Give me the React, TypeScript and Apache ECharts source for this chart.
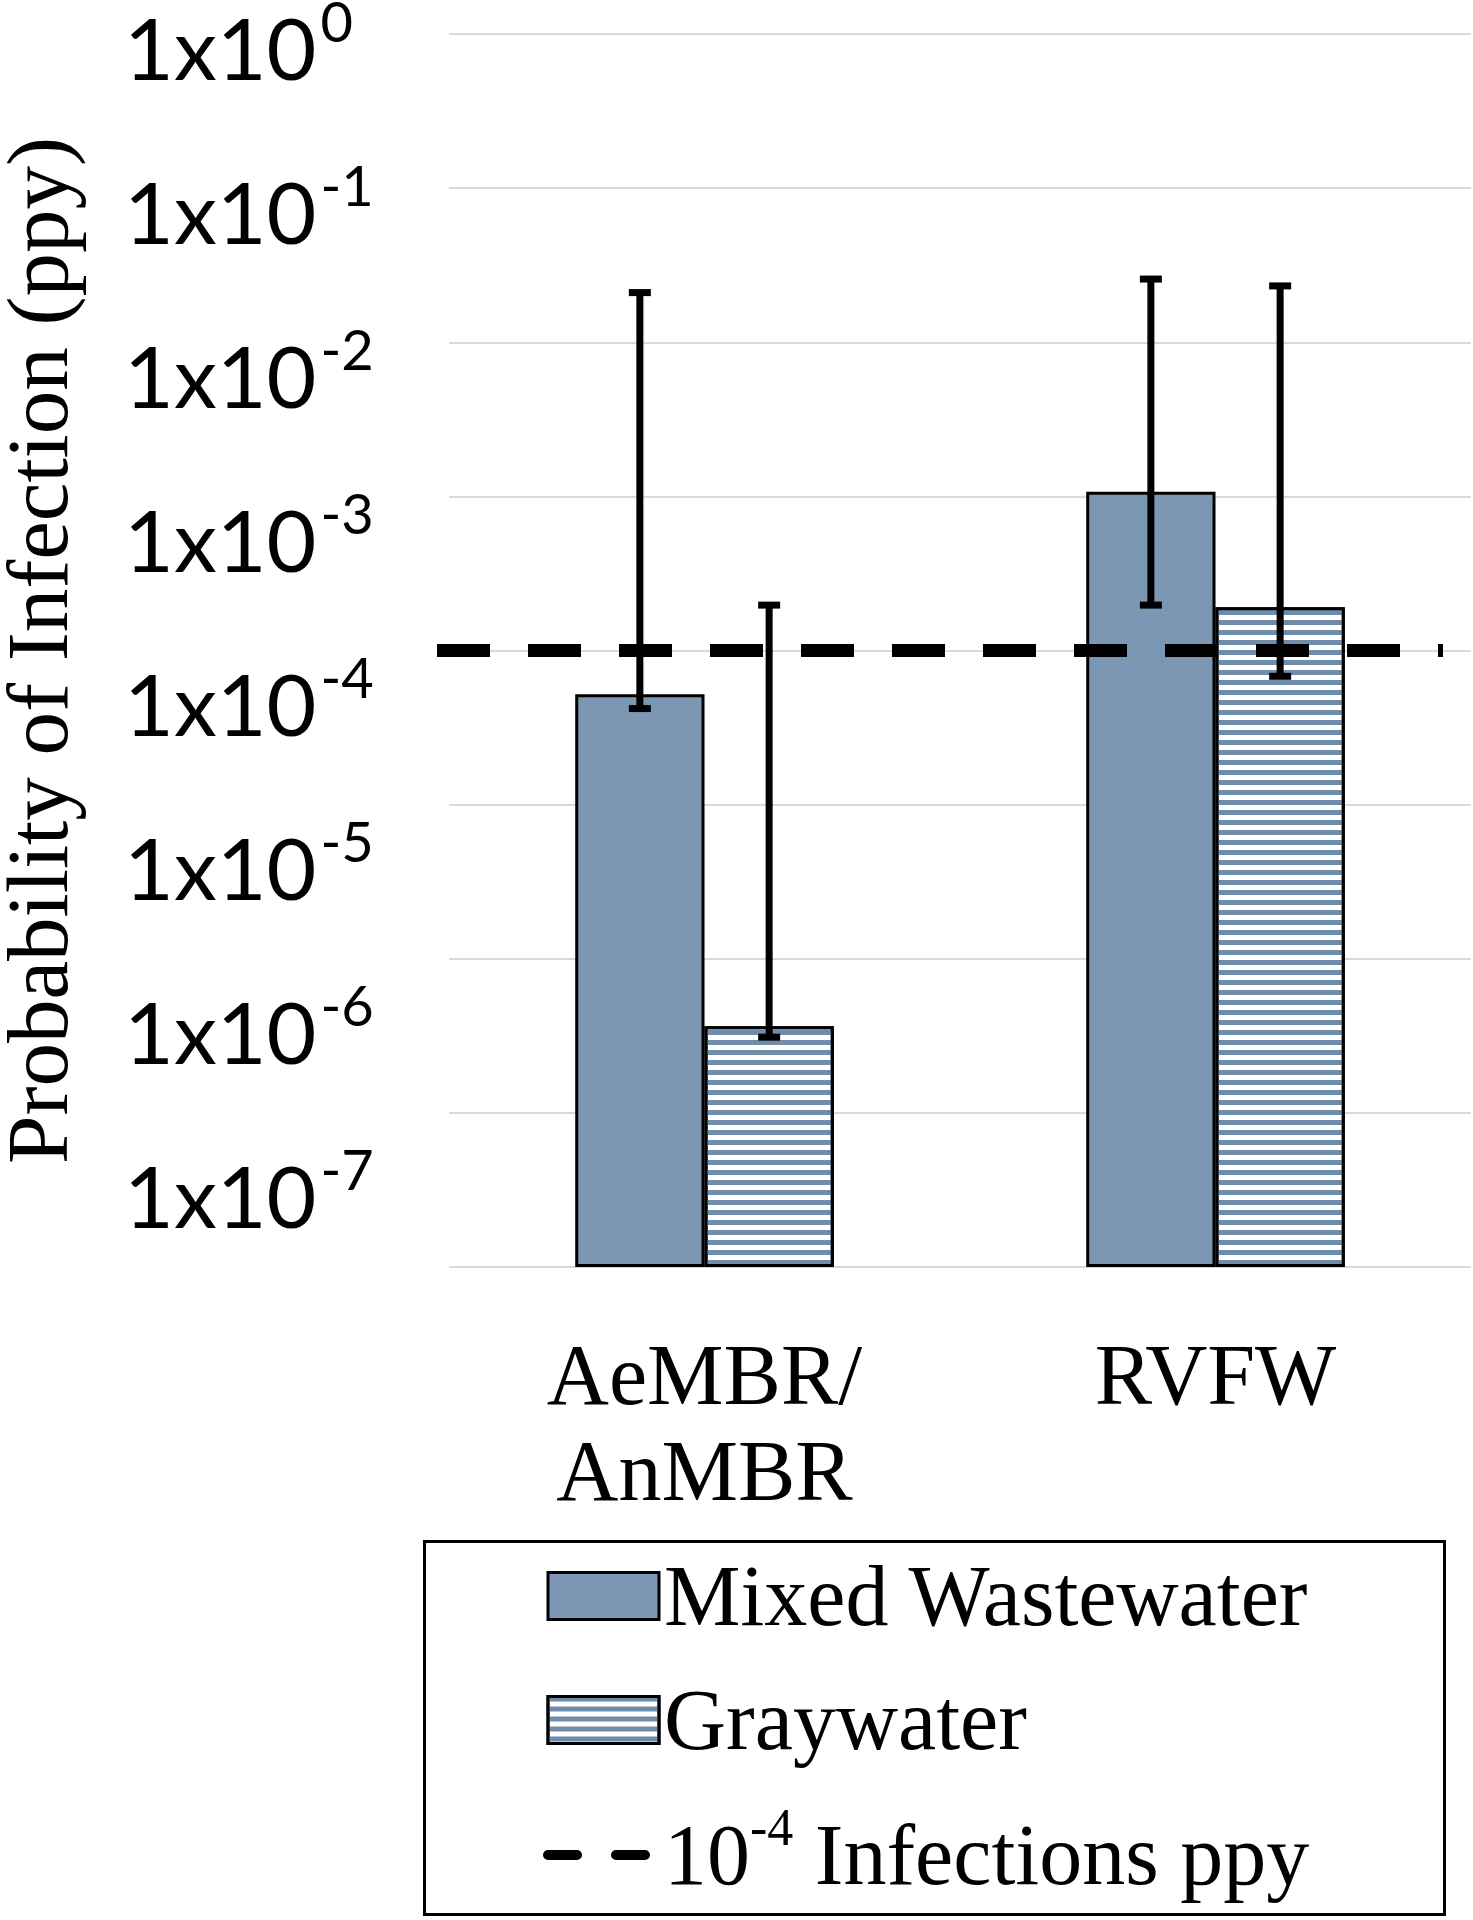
import React, { useEffect, useRef } from 'react';
import * as echarts from 'echarts';

// ---- data ----
const categories = ['AeMBR/\nAnMBR', 'RVFW'];
const seriesNames = ['Mixed Wastewater', 'Graywater', '10-4 Infections ppy'];
const mixedValues = [5.2e-5, 1.07e-3];
const grayValues = [3.65e-7, 1.91e-4];
const mixedErrLow = [4.2e-5, 1.97e-4];
const mixedErrHigh = [2.1e-2, 2.57e-2];
const grayErrLow = [3.1e-7, 6.8e-5];
const grayErrHigh = [1.97e-4, 2.32e-2];
const threshold = 1e-4;
const axisMin = 1e-8;
const axisMax = 1;
const tickLabelMin = 1e-7;
const tickLabelMax = 1;

const BAR_FRAC = 0.253;
const SERIF = 'Liberation Serif';
const SANS = 'Lato';

export default function App() {
  const ref = useRef<HTMLDivElement>(null);
  useEffect(() => {
    document.body.style.margin = '0';
    const chart = echarts.init(ref.current!, null, { renderer: 'svg' });

    const errData: number[][] = [];
    categories.forEach((_, i) => {
      errData.push([i, mixedErrLow[i], mixedErrHigh[i], 0]);
      errData.push([i, grayErrLow[i], grayErrHigh[i], 1]);
    });

    const option: any = {
      animation: false,
      backgroundColor: '#fff',
      grid: [
        { left: 449, right: 2, top: 34, bottom: 653, containLabel: false, outerBoundsMode: 'none' },
        { left: 449, width: 10, top: 46, height: 1148, containLabel: false, outerBoundsMode: 'none' },
      ],
      xAxis: [
        {
          type: 'category',
          gridIndex: 0,
          data: categories,
          axisLine: { show: false },
          axisTick: { show: false },
          axisLabel: {
            margin: 60,
            fontFamily: SERIF,
            fontSize: 86,
            lineHeight: 96,
            color: '#000',
          },
        },
        { type: 'value', gridIndex: 1, show: false },
      ],
      yAxis: [
        {
          type: 'log',
          logBase: 10,
          gridIndex: 0,
          min: axisMin,
          max: axisMax,
          startValue: axisMin,
          axisLine: { show: false },
          axisTick: { show: false },
          axisLabel: { show: false },
          splitLine: { show: true, lineStyle: { color: '#d9d9d9', width: 2 } },
          name: 'Probability of Infection (ppy)',
          nameLocation: 'middle',
          nameRotate: 90,
          nameGap: 368,
          nameTextStyle: { fontFamily: SERIF, fontSize: 87, color: '#000' },
        },
        {
          type: 'log',
          logBase: 10,
          gridIndex: 1,
          min: tickLabelMin,
          max: tickLabelMax,
          axisLine: { show: false },
          axisTick: { show: false },
          splitLine: { show: false },
          axisLabel: {
            show: true,
            align: 'left',
            margin: 325,
            formatter: (v: number) => {
              const e = Math.round(Math.log10(v));
              return `{b|1x10}{s|${e}}`;
            },
            rich: {
              b: { fontFamily: SANS, fontSize: 86, lineHeight: 86, color: '#000' },
              s: {
                fontFamily: SANS,
                fontSize: 56,
                lineHeight: 35,
                color: '#000',
                padding: [0, 0, 51, 4],
              },
            },
          },
        },
      ],
      legend: {
        orient: 'vertical',
        left: 543,
        top: 1553,
        height: 700,
        padding: 0,
        itemWidth: 111,
        itemHeight: 47,
        itemGap: 38,
        itemStyle: { borderColor: '#000', borderWidth: 3 },
        data: [
          { name: seriesNames[0], icon: 'rect' },
          { name: seriesNames[1], icon: 'rect' },
          {
            name: seriesNames[2],
            itemStyle: { opacity: 0, borderWidth: 0 },
            lineStyle: { width: 10, type: [29, 39], cap: 'round', color: '#000' },
          },
        ],
        formatter: (name: string) =>
          name === seriesNames[2] ? '{n|10}{s|-4}{n| Infections ppy}' : name,
        textStyle: {
          fontFamily: SERIF,
          fontSize: 86,
          lineHeight: 80,
          color: '#000',
          rich: {
            n: { fontFamily: SERIF, fontSize: 86, lineHeight: 80, color: '#000' },
            s: { fontFamily: SERIF, fontSize: 52, lineHeight: 24, padding: [0, 0, 56, 0], color: '#000' },
          },
        },
      },
      graphic: [
        {
          type: 'rect',
          shape: { x: 424.5, y: 1541.5, width: 1020, height: 373 },
          style: { fill: 'none', stroke: '#000', lineWidth: 3 },
          silent: true,
        },
      ],
      series: [
        {
          name: seriesNames[0],
          type: 'bar',
          xAxisIndex: 0,
          yAxisIndex: 0,
          data: mixedValues,
          barWidth: `${BAR_FRAC * 100}%`,
          barGap: '0%',
          itemStyle: { color: '#7b97b4', borderColor: '#000', borderWidth: 3 },
          z: 2,
        },
        {
          name: seriesNames[1],
          type: 'bar',
          xAxisIndex: 0,
          yAxisIndex: 0,
          data: grayValues,
          barWidth: `${BAR_FRAC * 100}%`,
          barGap: '0%',
          itemStyle: {
            color: '#ffffff',
            borderColor: '#000',
            borderWidth: 3,
            decal: {
              symbol: 'rect',
              symbolSize: 1,
              color: '#6f8cab',
              dashArrayX: [1, 0],
              dashArrayY: [5, 5],
              rotation: 0,
            },
          },
          z: 2,
        },
        {
          name: seriesNames[2],
          type: 'line',
          xAxisIndex: 0,
          yAxisIndex: 0,
          data: [],
          symbol: 'none',
          itemStyle: { color: '#000' },
          lineStyle: { color: '#000', width: 10, type: [29, 39], cap: 'round' },
          z: 3,
        },
        {
          name: 'thresholdLine',
          type: 'custom',
          xAxisIndex: 0,
          yAxisIndex: 0,
          z: 5,
          clip: false,
          silent: true,
          data: [[0, threshold]],
          encode: { x: 0, y: 1 },
          renderItem: (params: any, api: any) => {
            const y = api.coord([api.value(0), api.value(1)])[1];
            const cs = params.coordSys;
            return {
              type: 'line',
              shape: { x1: cs.x - 12, y1: y, x2: cs.x + cs.width - 28, y2: y },
              style: { stroke: '#000', lineWidth: 13, lineDash: [53, 38], lineCap: 'butt' },
            };
          },
        },
        {
          name: 'errors',
          type: 'custom',
          xAxisIndex: 0,
          yAxisIndex: 0,
          z: 6,
          clip: false,
          data: errData,
          encode: { x: 0, y: [1, 2] },
          renderItem: (params: any, api: any) => {
            const ci = api.value(0);
            const lo = api.value(1);
            const hi = api.value(2);
            const si = api.value(3);
            const pLo = api.coord([ci, lo]);
            const pHi = api.coord([ci, hi]);
            const band = api.coord([1, lo])[0] - api.coord([0, lo])[0];
            const x = pLo[0] + (si === 0 ? -1 : 1) * band * BAR_FRAC / 2;
            const capW = 22;
            const capH = 7;
            return {
              type: 'group',
              children: [
                {
                  type: 'line',
                  shape: { x1: x, y1: pLo[1], x2: x, y2: pHi[1] },
                  style: { stroke: '#000', lineWidth: 7 },
                },
                {
                  type: 'rect',
                  shape: { x: x - capW / 2, y: pHi[1] - capH / 2, width: capW, height: capH },
                  style: { fill: '#000' },
                },
                {
                  type: 'rect',
                  shape: { x: x - capW / 2, y: pLo[1] - capH / 2, width: capW, height: capH },
                  style: { fill: '#000' },
                },
              ],
            };
          },
        },
      ],
    };
    chart.setOption(option);
    return () => chart.dispose();
  }, []);
  return (
    <div
      ref={ref}
      style={{ position: 'absolute', left: 0, top: 0, width: 1473, height: 1920 }}
    />
  );
}
